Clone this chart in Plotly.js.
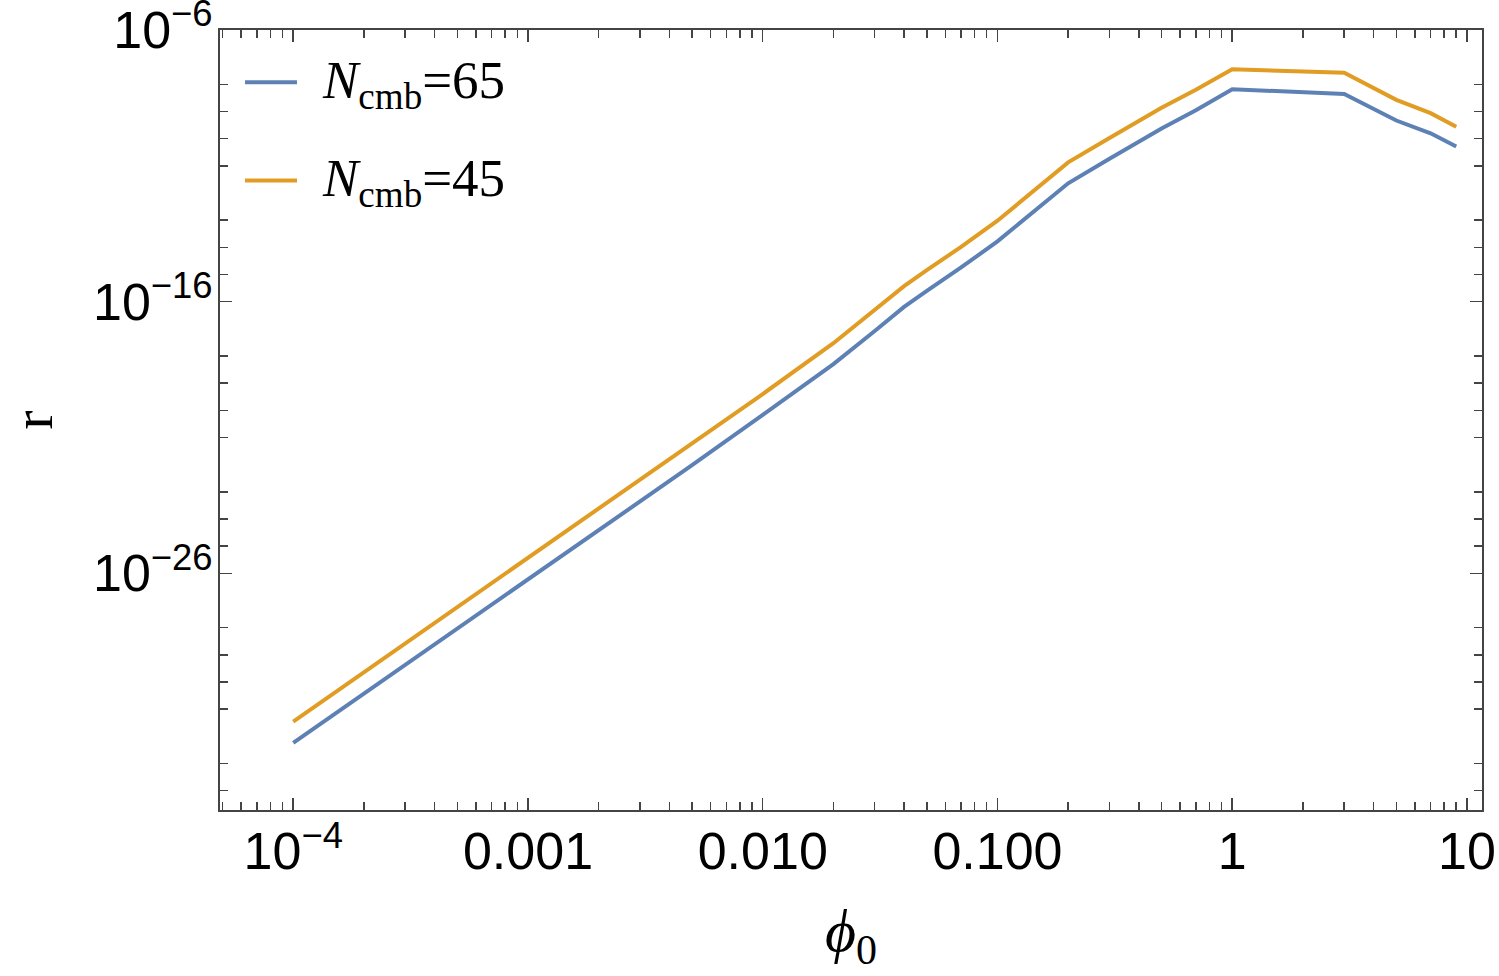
<!DOCTYPE html>
<html>
<head>
<meta charset="utf-8">
<script src="https://cdn.plot.ly/plotly-3.0.1.min.js"></script>
<style>
  html, body { margin: 0; padding: 0; background: #fff; }
  #chart { width: 1499px; height: 976px; }
</style>
</head>
<body>
<div id="chart"></div>
<script>
// phi0 sample points
const phi0 = [1e-4, 2e-4, 5e-4, 0.001, 0.002, 0.005, 0.01, 0.02, 0.03, 0.04, 0.05, 0.07, 0.1, 0.15, 0.2, 0.3, 0.5, 0.7, 1, 3, 5, 7, 9];

// log10(r)
const logR65 = [-32.24, -30.43, -28.04, -26.22, -24.41, -22.02, -20.17, -18.30, -17.08, -16.19, -15.60, -14.74, -13.78, -12.52, -11.64, -10.74, -9.62, -8.95, -8.18, -8.35, -9.33, -9.80, -10.29];
const logR45 = [-31.46, -29.65, -27.26, -25.44, -23.63, -21.24, -19.40, -17.53, -16.32, -15.43, -14.84, -13.98, -13.02, -11.75, -10.87, -9.97, -8.86, -8.20, -7.44, -7.57, -8.57, -9.06, -9.56];

const seriesNames = ['<i>N</i><sub>cmb</sub>=65', '<i>N</i><sub>cmb</sub>=45'];
const seriesColors = ['#5E81B5', '#E19C24'];

const xTickVals = [1e-4, 0.001, 0.01, 0.1, 1, 10];
const xTickText = ['10<sup>\u22124</sup>', '0.001', '0.010', '0.100', '1', '10'];
const yTickVals = [1e-6, 1e-16, 1e-26];
const yTickText = ['10<sup>\u22126</sup>', '10<sup>\u221216</sup>', '10<sup>\u221226</sup>'];

// minor ticks (Mathematica skips every fifth decade)
const xMinor = [];
for (let e = -5; e <= 1; e++) {
  for (let m = 2; m <= 9; m++) xMinor.push(m * Math.pow(10, e));
}
const yMinor = [];
for (let e = -7; e >= -35; e--) {
  if ((e + 7) % 5 !== 0 && e !== -16 && e !== -26) yMinor.push(Math.pow(10, e));
}

const toR = arr => arr.map(v => Math.pow(10, v));

const traces = [logR65, logR45].map((vals, i) => ({
  x: phi0, y: toR(vals), type: 'scatter', mode: 'lines',
  name: seriesNames[i], showlegend: false,
  line: { color: seriesColors[i], width: 4 }
}));

// legend drawn by hand so the sample line is as long as in the original
const legendY = [0.933, 0.807];
const legendShapes = seriesColors.map((c, i) => ({
  type: 'line', xref: 'paper', yref: 'paper',
  x0: 0.0198, x1: 0.061, y0: legendY[i], y1: legendY[i],
  line: { color: c, width: 4 }
}));
const legendText = seriesNames.map((t, i) => ({
  xref: 'paper', yref: 'paper', x: 0.079, y: legendY[i] - 0.002,
  xanchor: 'left', yanchor: 'middle', showarrow: false, text: t,
  font: { family: 'Liberation Serif, Times New Roman, serif', size: 53, color: '#000' }
}));

const axisCommon = {
  showgrid: false,
  zeroline: false,
  showline: true,
  linecolor: '#444',
  linewidth: 2,
  mirror: 'ticks',
  ticks: 'inside',
  ticklen: 12,
  tickwidth: 1.5,
  tickcolor: '#444',
  ticklabeloverflow: 'allow',
  ticklabelstandoff: -5,
  tickfont: { family: 'Liberation Sans, Arial, sans-serif', size: 52, color: '#000' }
};

const layout = {
  width: 1499,
  height: 976,
  paper_bgcolor: '#fff',
  plot_bgcolor: '#fff',
  margin: { l: 220, r: 17, t: 30, b: 166 },
  showlegend: false,
  shapes: legendShapes,
  annotations: legendText,
  xaxis: Object.assign({}, axisCommon, {
    type: 'log',
    range: [-4.312, 1.064],
    tickmode: 'array',
    tickvals: xTickVals,
    ticktext: xTickText,
    minor: { tickmode: 'array', tickvals: xMinor, ticks: 'inside', ticklen: 8, tickwidth: 1.5, tickcolor: '#444' },
    title: {
      text: '<i>\u03d5</i><sub>0</sub>',
      font: { family: 'Liberation Serif, Times New Roman, serif', size: 60, color: '#000' },
      standoff: 30
    }
  }),
  yaxis: Object.assign({}, axisCommon, {
    type: 'log',
    range: [-34.715, -5.997],
    tickmode: 'array',
    tickvals: yTickVals,
    ticktext: yTickText,
    minor: { tickmode: 'array', tickvals: yMinor, ticks: 'inside', ticklen: 8, tickwidth: 1.5, tickcolor: '#444' },
    title: {
      text: 'r',
      font: { family: 'Liberation Serif, Times New Roman, serif', size: 58, color: '#000' },
      standoff: 30
    }
  })
};

Plotly.newPlot('chart', traces, layout, { displayModeBar: false, staticPlot: true });
</script>
</body>
</html>
